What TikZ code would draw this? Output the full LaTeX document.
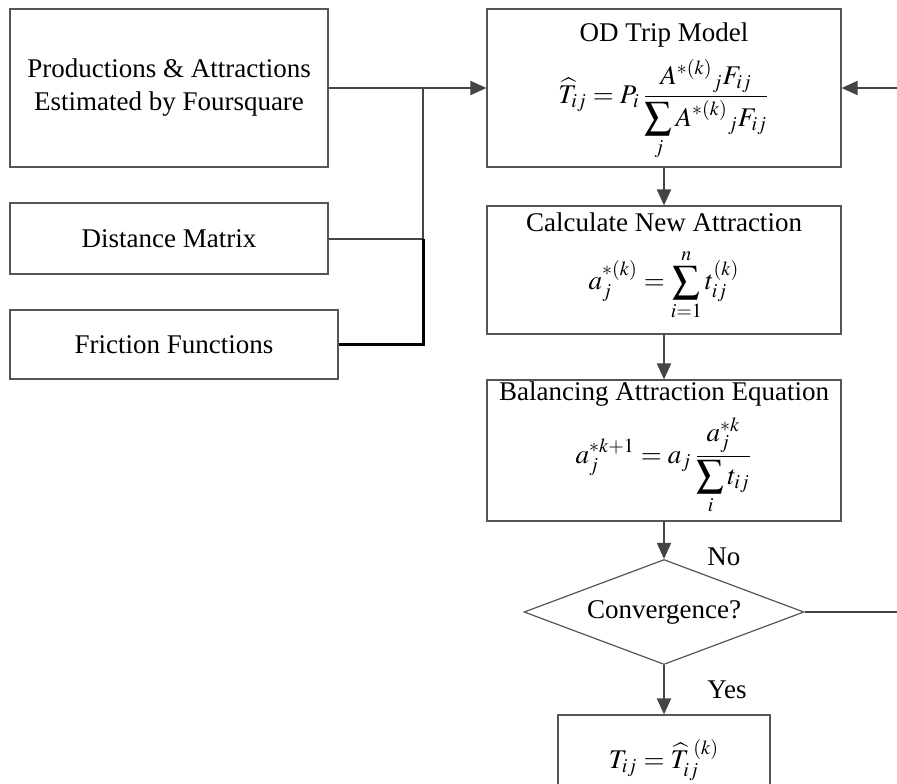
\documentclass[tikz,border=0pt]{standalone}
\usepackage{mathptmx}
\usepackage[no-math]{fontspec}
\setmainfont{Liberation Serif}
\usetikzlibrary{shapes.geometric,arrows.meta}
\definecolor{linegray}{HTML}{444444}
\definecolor{boxgray}{HTML}{555555}
\begin{document}
\begin{tikzpicture}[
    x=0.5pt, y=-0.5pt,
    box/.style={draw=boxgray, line width=0.6pt, inner sep=0pt, font=\fontsize{13.5}{16.5}\selectfont, align=center},
    decision/.style={draw=boxgray, line width=0.6pt, diamond, shape aspect=2.67, minimum width=140pt, minimum height=52.5pt, inner sep=0pt, font=\fontsize{13.5}{16.5}\selectfont},
    label/.style={font=\fontsize{13.5}{16.5}\selectfont, inner sep=1pt},
    link/.style={draw=linegray, line width=1pt},
    flow/.style={link, -{Triangle[length=8pt,width=7pt]}},
    boldlink/.style={draw=black, line width=1.5pt}
]
    \clip (0,0) rectangle (897,783);

    % inputs on the left
    \node[box, minimum width=159pt, minimum height=79pt] (prod) at (169, 88) {Productions \& Attractions\\Estimated by Foursquare};
    \node[box, minimum width=159pt, minimum height=35.5pt] (dist) at (169, 238.5) {Distance Matrix};
    \node[box, minimum width=164pt, minimum height=34.5pt] (fric) at (174, 344.5) {Friction Functions};

    % main loop
    \node[box, minimum width=177pt, minimum height=79pt] (od) at (664, 88) {};
    \node[label] (odtitle) at (664, 35) {OD Trip Model};
    \node[label] (odeq) at (664, 110) {$\displaystyle \widehat{T}_{ij} = P_i\, \frac{{A^{*(k)}}_j F_{ij}}{\displaystyle\sum_j {A^{*(k)}}_j F_{ij}}$};

    \node[box, minimum width=177pt, minimum height=64pt] (calc) at (664, 270) {};
    \node[label] (calctitle) at (664, 222) {Calculate New Attraction};
    \node[label] (calceq) at (664, 285) {$\displaystyle a_j^{*(k)} = \sum_{i=1}^{n} t_{ij}^{(k)}$};

    \node[box, minimum width=177pt, minimum height=70.5pt] (bal) at (664, 450.5) {};
    \node[label] (baltitle) at (664, 394) {Balancing Attraction Equation};
    \node[label] (baleq) at (664, 466) {$\displaystyle a_j^{*k+1} = a_j\, \frac{a_j^{*k}}{\displaystyle\sum_i t_{ij}}$};

    \node[decision] (conv) at (664, 612) {Convergence?};
    \node[label, anchor=west] (no) at (705, 557) {No};
    \node[label, anchor=west] (yes) at (705, 690) {Yes};

    \node[box, minimum width=106pt, minimum height=45pt] (final) at (664, 760) {$T_{ij} = \widehat{T}_{ij}^{\;(k)}$};

    % connectors
    \coordinate (joinA) at (423, 88);
    \coordinate (joinB) at (423, 238.5);
    \coordinate (loopA) at (897, 612);
    \coordinate (loopB) at (897, 88);

    \draw[flow] (prod.east) -- (od.west);
    \draw[link] (dist.east) -- (joinB);
    \draw[link] (joinB) -- (joinA);
    \draw[boldlink] (fric.east) -| (joinB);

    \draw[flow] (od.south) -- (calc.north);
    \draw[flow] (calc.south) -- (bal.north);
    \draw[flow] (bal.south) -- (conv.north);
    \draw[flow] (conv.south) -- (final.north);
    \draw[link] (conv.east) -- (loopA);
    \draw[flow] (loopB) -- (od.east);
\end{tikzpicture}
\end{document}
